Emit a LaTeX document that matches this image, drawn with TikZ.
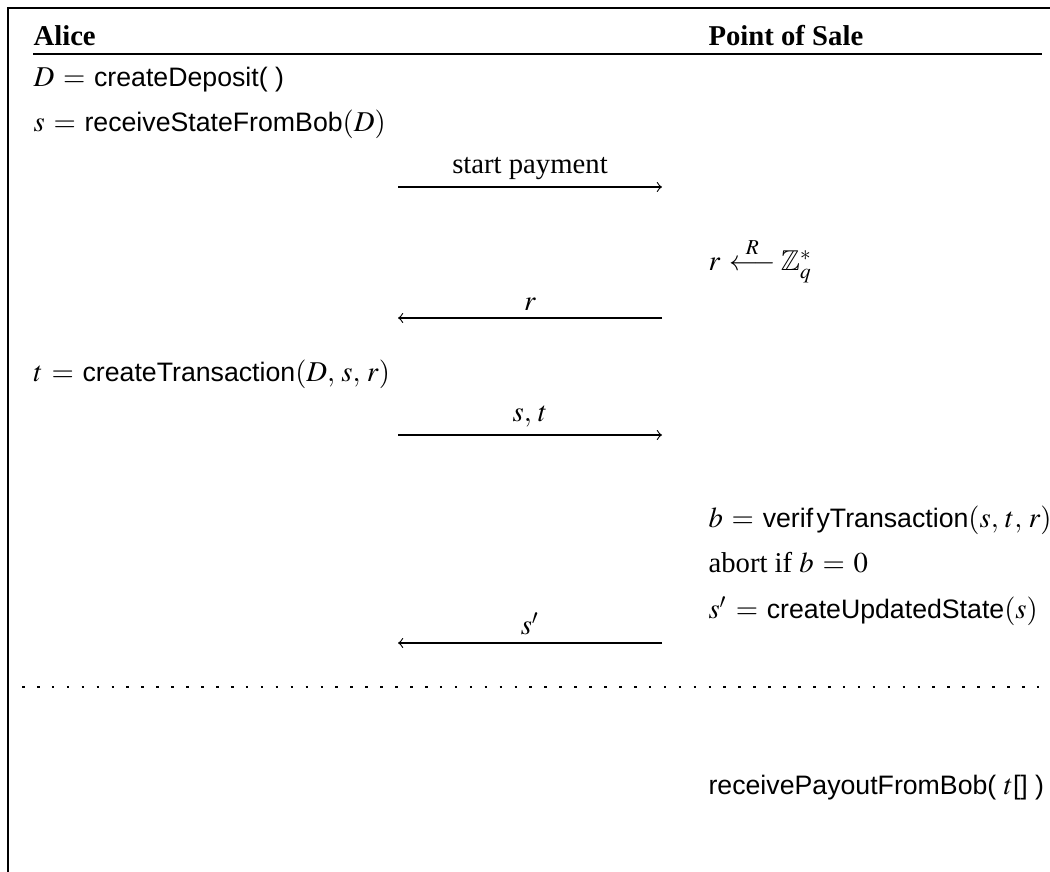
\documentclass[tikz,border=0pt]{standalone}
\usepackage{amsmath}
\usepackage{mathptmx}
\usepackage{amssymb}
\usepackage[no-math]{fontspec}
\setmainfont{Liberation Serif}
\newfontfamily\funcfont[Scale=0.93]{Liberation Sans}
\usepackage{tikz}
\usetikzlibrary{arrows,positioning}
\newcommand{\fn}[1]{\text{\funcfont #1}}
\thickmuskip=5.5mu plus 5mu
\tikzstyle{party} = [font=\bfseries, anchor=base west, inner sep=0pt]
\tikzstyle{stepline} = [anchor=base west, inner sep=0pt]
\tikzstyle{coord} = [coordinate]
\tikzstyle{connector} = [->, line width=0.4pt]
\tikzstyle{msglabel} = [above=2.5pt, inner sep=0pt]
\tikzstyle{rule} = [line width=0.4pt]
\tikzstyle{dotrule} = [line width=0.9pt, dash pattern=on 0.9pt off 4.3pt]

\begin{document}
\begin{tikzpicture}[x=0.3484pt, y=-0.3484pt]
	\useasboundingbox (0,0) rectangle (1050,872);
	% frame and header
	\draw[rule] (8,872) -- (8,8) -- (1050,8);
	\node[party] (alice) at (33,46) {Alice};
	\node[party] (pos) at (708,46) {Point of Sale};
	\coordinate (headl) at (33,54);
	\coordinate (headr) at (1042,54);
	\draw[rule] (headl) -- (headr);
	
	% Alice
	\node[stepline] (deposit) at (33,87) {$D = \fn{createDeposit( )}$};
	\node[stepline] (state) at (33,132) {$s = \fn{receiveStateFromBob}(D)$};
	\node[stepline] (trans) at (33,382) {$t = \fn{createTransaction}(D,\, s,\, r)$};
	
	% Point of Sale
	\node[stepline] (rand) at (708,271) {$r \overset{R}{\longleftarrow}\! \mathbb{Z}_q^*$};
	\node[stepline] (verify) at (708,528) {$b = \fn{verif\kern1.2pt yTransaction}(s,\, t,\, r)$};
	\node[stepline] (abort) at (708,573) {abort if $b = 0$};
	\node[stepline] (update) at (708,619) {$s' = \fn{createUpdatedState}(s)$};
	\node[stepline] (payout) at (708,795) {$\fn{receivePayoutFromBob( }t\fn{[] )}$};
	
	% messages
	\node[coord] (m1l) at (398,187) {};
	\node[coord] (m1r) at (662,187) {};
	\node[coord] (m2l) at (398,318) {};
	\node[coord] (m2r) at (662,318) {};
	\node[coord] (m3l) at (398,435) {};
	\node[coord] (m3r) at (662,435) {};
	\node[coord] (m4l) at (398,643) {};
	\node[coord] (m4r) at (662,643) {};
	
	\draw[connector] (m1l) to node[msglabel] {start payment} (m1r);
	\draw[connector] (m2r) to node[msglabel] {$r$} (m2l);
	\draw[connector] (m3l) to node[msglabel] {$s,\, t$} (m3r);
	\draw[connector] (m4r) to node[msglabel] {$s'$} (m4l);
	
	% separator
	\node[coord] (sepl) at (22,687) {};
	\node[coord] (sepr) at (1046,687) {};
	\draw[dotrule] (sepl) -- (sepr);
\end{tikzpicture}
\end{document}
